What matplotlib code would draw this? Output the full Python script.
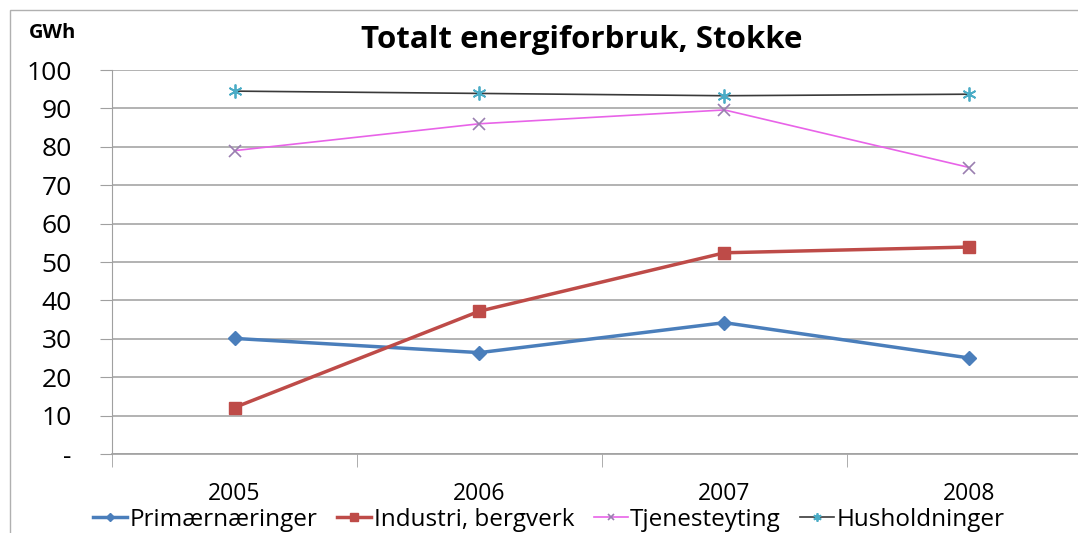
import matplotlib.pyplot as plt
from matplotlib.patches import Rectangle

years = ["2005", "2006", "2007", "2008"]
primaer = [30.1, 26.4, 34.2, 25.0]
industri = [12.1, 37.2, 52.4, 53.9]
tjeneste = [79.0, 86.0, 89.6, 74.6]
husholdning = [94.5, 93.9, 93.3, 93.7]
y_ticks = [0, 10, 20, 30, 40, 50, 60, 70, 80, 90, 100]
y_labels = ["-", "10", "20", "30", "40", "50", "60", "70", "80", "90", "100"]

plt.rcParams['font.family'] = ['Open Sans', 'DejaVu Sans']

fig = plt.figure(figsize=(10.78, 5.33), dpi=100)
ax = fig.add_axes([112 / 1078, 1 - 454 / 533, (1092 - 112) / 1078, (454 - 70) / 533])

x = range(len(years))
ax.plot(x, primaer, color='#4a7ebb', lw=2.5, marker='D', ms=7, label='Primærnæringer')
ax.plot(x, industri, color='#be4b48', lw=2.5, marker='s', ms=9, label='Industri, bergverk')
ax.plot(x, tjeneste, color='#e863e8', lw=1.2, marker='x', ms=8, mec='#9a7fb0', mew=1.2,
        label='Tjenesteyting')
ax.plot(x, husholdning, color='#3a3a3a', lw=1.2, marker=(6, 2, 0), ms=10, mec='#4bacc6',
        mew=1.3, label='Husholdninger')

ax.set_xlim(-0.5, 3.5)
ax.set_ylim(0, 100)
ax.set_yticks(y_ticks)
ax.set_yticklabels(y_labels, fontsize=19)
ax.set_xticks(list(x))
ax.set_xticklabels(years, fontsize=16.5)
ax.set_xticks([-0.5, 0.5, 1.5, 2.5], minor=True)
ax.tick_params(axis='x', which='major', length=0, pad=20)
ax.tick_params(axis='x', which='minor', length=9, color='#a0a0a0')
ax.tick_params(axis='y', length=9, color='#a0a0a0', pad=20)
ax.yaxis.grid(True, color='#a6a6a6', lw=1.2)
ax.set_axisbelow(True)
for s in ['top', 'right']:
    ax.spines[s].set_visible(False)
ax.spines['left'].set_color('#a0a0a0')
ax.spines['bottom'].set_color('#a0a0a0')
ax.spines['bottom'].set_linewidth(1.2)

fig.text(582 / 1078, 1 - 40 / 533, 'Totalt energiforbruk, Stokke', ha='center', va='center',
         fontsize=22.5, fontweight='bold')
fig.text(53 / 1078, 1 - 33 / 533, 'GWh', ha='center', va='center', fontsize=14.5,
         fontweight='bold')

fig.legend(loc='center', bbox_to_anchor=(549 / 1078, 1 - 520 / 533), ncol=4, frameon=False,
           fontsize=17.5, handlelength=1.4, handletextpad=0.1, columnspacing=0.8,
           markerscale=0.6)

fig.patches.append(Rectangle((10 / 1078, -0.1), 1.2, 1 - 10 / 533 + 0.1,
                             transform=fig.transFigure, fill=False, ec='#b0b0b0', lw=1))

fig.savefig('out.png', dpi=100)
